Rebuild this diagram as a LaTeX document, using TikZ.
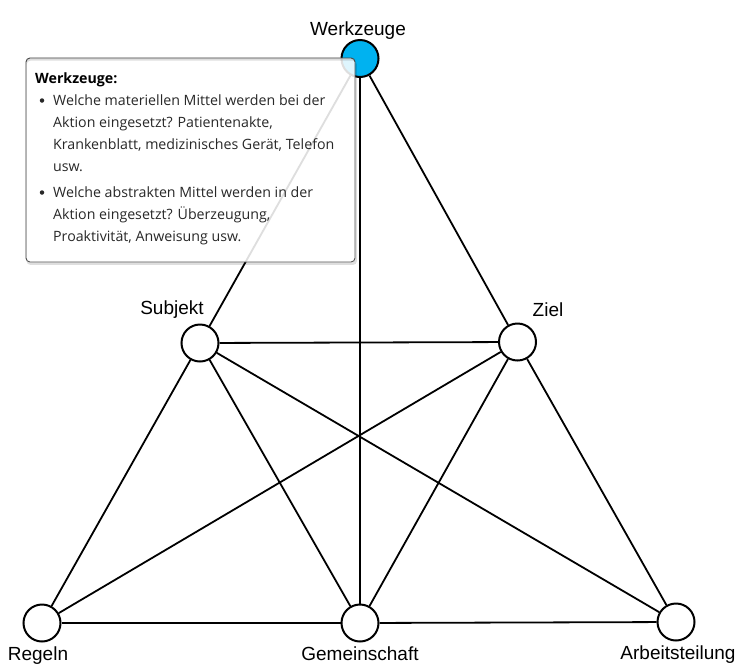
\documentclass[tikz,border=0pt]{standalone}
\usepackage{fontspec}
\setmainfont{Liberation Sans}
\newfontfamily\tipfont{Open Sans}
\definecolor{wcyan}{RGB}{0,178,240}
\definecolor{tipborder}{RGB}{85,85,85}
\definecolor{tiptext}{RGB}{40,40,40}
\begin{document}
\begin{tikzpicture}[x=1pt,y=-1pt,
  vert/.style={circle,draw=black,line width=2pt,fill=white,minimum size=37pt,inner sep=0pt},
  edge/.style={line width=1.8pt,black},
  lab/.style={font=\fontsize{19}{22}\selectfont,inner sep=0pt,anchor=base},
  tipbox/.style={draw=tipborder,line width=0.9pt,fill=white,fill opacity=0.87,rounded corners=4pt,inner sep=0pt},
  tipline/.style={font=\tipfont\fontsize{14.2}{22}\selectfont,text=tiptext,inner sep=0pt,anchor=base west},
  tipbullet/.style={circle,fill=tiptext,inner sep=0pt,minimum size=4.5pt},
]
\useasboundingbox (0,0) rectangle (736,665);
% vertices
\node[vert,fill=wcyan] (W) at (360,58.5) {};
\node[vert] (S) at (200,343) {};
\node[vert] (Z) at (517.5,342) {};
\node[vert] (R) at (42,623) {};
\node[vert] (G) at (360,623) {};
\node[vert] (A) at (676,622) {};
% labels
\node[lab] (Wl) at (358,35) {Werkzeuge};
\node[lab] (Sl) at (172,314) {Subjekt};
\node[lab] (Zl) at (548,316) {Ziel};
\node[lab] (Rl) at (38,660) {Regeln};
\node[lab] (Gl) at (360,660) {Gemeinschaft};
\node[lab] (Al) at (678,659) {Arbeitsteilung};
% edges
\draw[edge] (W) -- (S);
\draw[edge] (W) -- (Z);
\draw[edge] (W) -- (G);
\draw[edge] (S) -- (Z);
\draw[edge] (S) -- (R);
\draw[edge] (S) -- (G);
\draw[edge] (S) -- (A);
\draw[edge] (Z) -- (R);
\draw[edge] (Z) -- (G);
\draw[edge] (Z) -- (A);
\draw[edge] (R) -- (G);
\draw[edge] (G) -- (A);
% tooltip
\node[tipbox,minimum width=329pt,minimum height=204pt] (tip) at (190.5,160) {};
\fill[black,opacity=0.13,even odd rule,rounded corners=4pt]
  ([shift={(1pt,-3pt)}]tip.north west) rectangle ([shift={(1.5pt,-2.5pt)}]tip.south east)
  (tip.north west) rectangle (tip.south east);
\node[tipline,text=black,font=\tipfont\bfseries\fontsize{14.2}{22}\selectfont] (t0) at (35,83) {Werkzeuge:};
\node[tipbullet] (b1) at (42,100.5) {};
\node[tipline] (t1) at (53,105.5) {Welche materiellen Mittel werden bei der};
\node[tipline] (t2) at (53,127.5) {Aktion eingesetzt? Patientenakte,};
\node[tipline] (t3) at (53,149.5) {Krankenblatt, medizinisches Gerät, Telefon};
\node[tipline] (t4) at (53,171.5) {usw.};
\node[tipbullet] (b2) at (42,192.5) {};
\node[tipline] (t5) at (53,197.5) {Welche abstrakten Mittel werden in der};
\node[tipline] (t6) at (53,219.5) {Aktion eingesetzt? Überzeugung,};
\node[tipline] (t7) at (53,241.5) {Proaktivität, Anweisung usw.};
\end{tikzpicture}
\end{document}
